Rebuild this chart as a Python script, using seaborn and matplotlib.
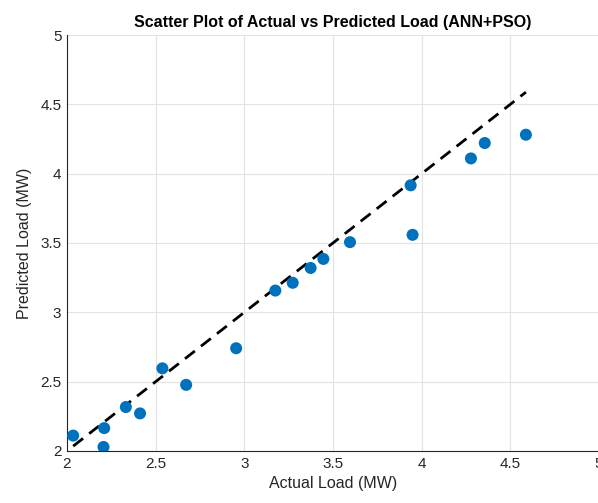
import numpy as np
import pandas as pd
import matplotlib
matplotlib.use("Agg")
import matplotlib.pyplot as plt
import seaborn as sns

# values
actual = [2.035, 2.206, 2.210, 2.332, 2.412, 2.538, 2.672, 2.954, 3.175, 3.273,
          3.374, 3.446, 3.596, 3.938, 3.949, 4.278, 4.356, 4.588]
predicted = [2.111, 2.029, 2.165, 2.317, 2.271, 2.596, 2.477, 2.741, 3.157, 3.213,
             3.320, 3.385, 3.506, 3.916, 3.559, 4.110, 4.221, 4.281]
ticks = [2, 2.5, 3, 3.5, 4, 4.5, 5]
tick_labels = ["2", "2.5", "3", "3.5", "4", "4.5", "5"]

df = pd.DataFrame({"Actual": actual, "Predicted": predicted})
# ideal y = x line, from smallest to largest actual value
ideal = pd.DataFrame({"x": [min(actual), max(actual)], "y": [min(actual), max(actual)]})

sns.set_theme(style="whitegrid")
plt.rcParams["font.family"] = ["Liberation Sans", "DejaVu Sans"]

fig = plt.figure(figsize=(5.98, 5.03), dpi=100)
ax = fig.add_axes([0.112, 0.1034, 0.8896, 0.827])

sns.scatterplot(data=df, x="Actual", y="Predicted", color="#0072BD", s=75,
                edgecolor="none", ax=ax, zorder=3)
sns.lineplot(data=ideal, x="x", y="y", color="black", linestyle=(0, (4.5, 2.8)),
             linewidth=2, ax=ax, zorder=2)

ax.set_xlim(2, 5)
ax.set_ylim(2, 5)
ax.set_xticks(ticks)
ax.set_xticklabels(tick_labels)
ax.set_yticks(ticks)
ax.set_yticklabels(tick_labels)
ax.grid(True, color="#e3e3e3", linewidth=0.8)
ax.set_facecolor("white")

for side in ["top", "right"]:
    ax.spines[side].set_visible(False)
for side in ["left", "bottom"]:
    ax.spines[side].set_color("#262626")
    ax.spines[side].set_linewidth(0.8)

ax.tick_params(axis="both", direction="in", length=4, width=0.8, colors="#262626",
               labelsize=11, labelcolor="#262626", pad=4)
ax.set_xlabel("Actual Load (MW)", fontsize=11.5, color="#262626", labelpad=4)
ax.set_ylabel("Predicted Load (MW)", fontsize=11.5, color="#262626", labelpad=6)
ax.set_title("Scatter Plot of Actual vs Predicted Load (ANN+PSO)", fontsize=11.5,
             fontweight="bold", color="black", pad=6)

fig.savefig("out.png", dpi=100)
